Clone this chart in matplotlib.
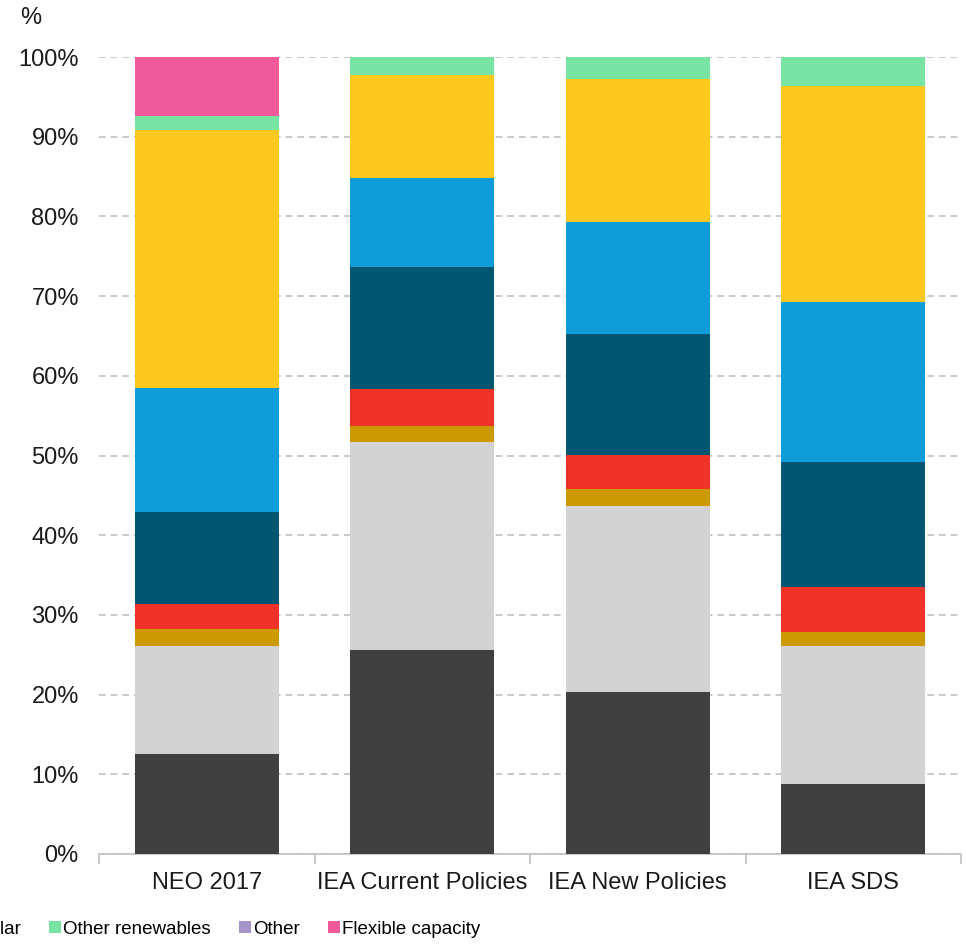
import numpy as np
import matplotlib.pyplot as plt

plt.rcParams['font.family'] = ['Liberation Sans', 'DejaVu Sans']

# Data (share of capacity, %)
scenarios = ['NEO 2017', 'IEA Current Policies', 'IEA New Policies', 'IEA SDS']
techs = ['Coal', 'Gas', 'Oil', 'Nuclear', 'Hydro', 'Wind', 'Solar',
         'Other renewables', 'Other', 'Flexible capacity']
coal = [12.6, 25.6, 20.3, 8.8]
gas = [13.5, 26.1, 23.4, 17.3]
oil = [2.1, 2.0, 2.1, 1.8]
nuclear = [3.2, 4.6, 4.2, 5.6]
hydro = [11.5, 15.3, 15.3, 15.7]
wind = [15.6, 11.2, 14.0, 20.1]
solar = [32.4, 12.9, 17.9, 27.1]
other_ren = [1.7, 2.3, 2.8, 3.6]
other = [0.0, 0.0, 0.0, 0.0]
flexible = [7.4, 0.0, 0.0, 0.0]
series = [coal, gas, oil, nuclear, hydro, wind, solar, other_ren, other, flexible]
colors = ['#404040', '#D3D3D3', '#CC9900', '#F03228', '#015672', '#0F9DD9',
          '#FEC81F', '#77E4A4', '#A794C8', '#F05A9B']

fig = plt.figure(figsize=(9.66, 9.44), dpi=100)
ax = fig.add_axes([99 / 966, 90 / 944, 862 / 966, 797 / 944])

x = np.arange(len(scenarios))
bottom = np.zeros(len(scenarios))
handles = []
for vals, col, name in zip(series, colors, techs):
    b = ax.bar(x, vals, width=0.667, bottom=bottom, color=col, label=name, zorder=3)
    handles.append(b)
    bottom += np.array(vals)

ax.set_xlim(-0.5, 3.5)
ax.set_ylim(0, 100)
ax.set_yticks(np.arange(0, 101, 10))
ax.set_yticklabels([f'{v}%' for v in range(0, 101, 10)], fontsize=17, color='#1a1a1a')
ax.yaxis.grid(True, linestyle=(0, (4, 3)), color='#C0C0C0', linewidth=1.2, zorder=0)
ax.tick_params(axis='y', length=0, pad=14.5)

ax.set_xticks(x)
ax.set_xticklabels(scenarios, fontsize=17, color='#1a1a1a')
ax.set_xticks(np.arange(-0.5, 4.0, 1.0), minor=True)
ax.tick_params(axis='x', which='major', length=0, pad=13)
ax.tick_params(axis='x', which='minor', length=7, color='#BFBFBF', width=1.2)

for s in ['top', 'right', 'left']:
    ax.spines[s].set_visible(False)
ax.spines['bottom'].set_color('#BFBFBF')
ax.spines['bottom'].set_linewidth(1.2)

fig.text(20 / 966, 1 - 18 / 944, '%', fontsize=17, va='center', ha='left', color='#1a1a1a')

leg = fig.legend(handles=handles, labels=techs, loc='center left', ncol=10,
                 bbox_to_anchor=(0, 15 / 944), frameon=False, fontsize=13.5,
                 handlelength=0.65, handleheight=0.65, handletextpad=0.1,
                 columnspacing=1.5, borderaxespad=0, borderpad=0)

# shift legend so "Other renewables" text starts where it does in the original
fig.canvas.draw()
tx = leg.get_texts()[7].get_window_extent().x0
dx = (63 - tx) / 966
leg.set_bbox_to_anchor((dx, 15 / 944), transform=fig.transFigure)

fig.savefig('out.png', dpi=100)
